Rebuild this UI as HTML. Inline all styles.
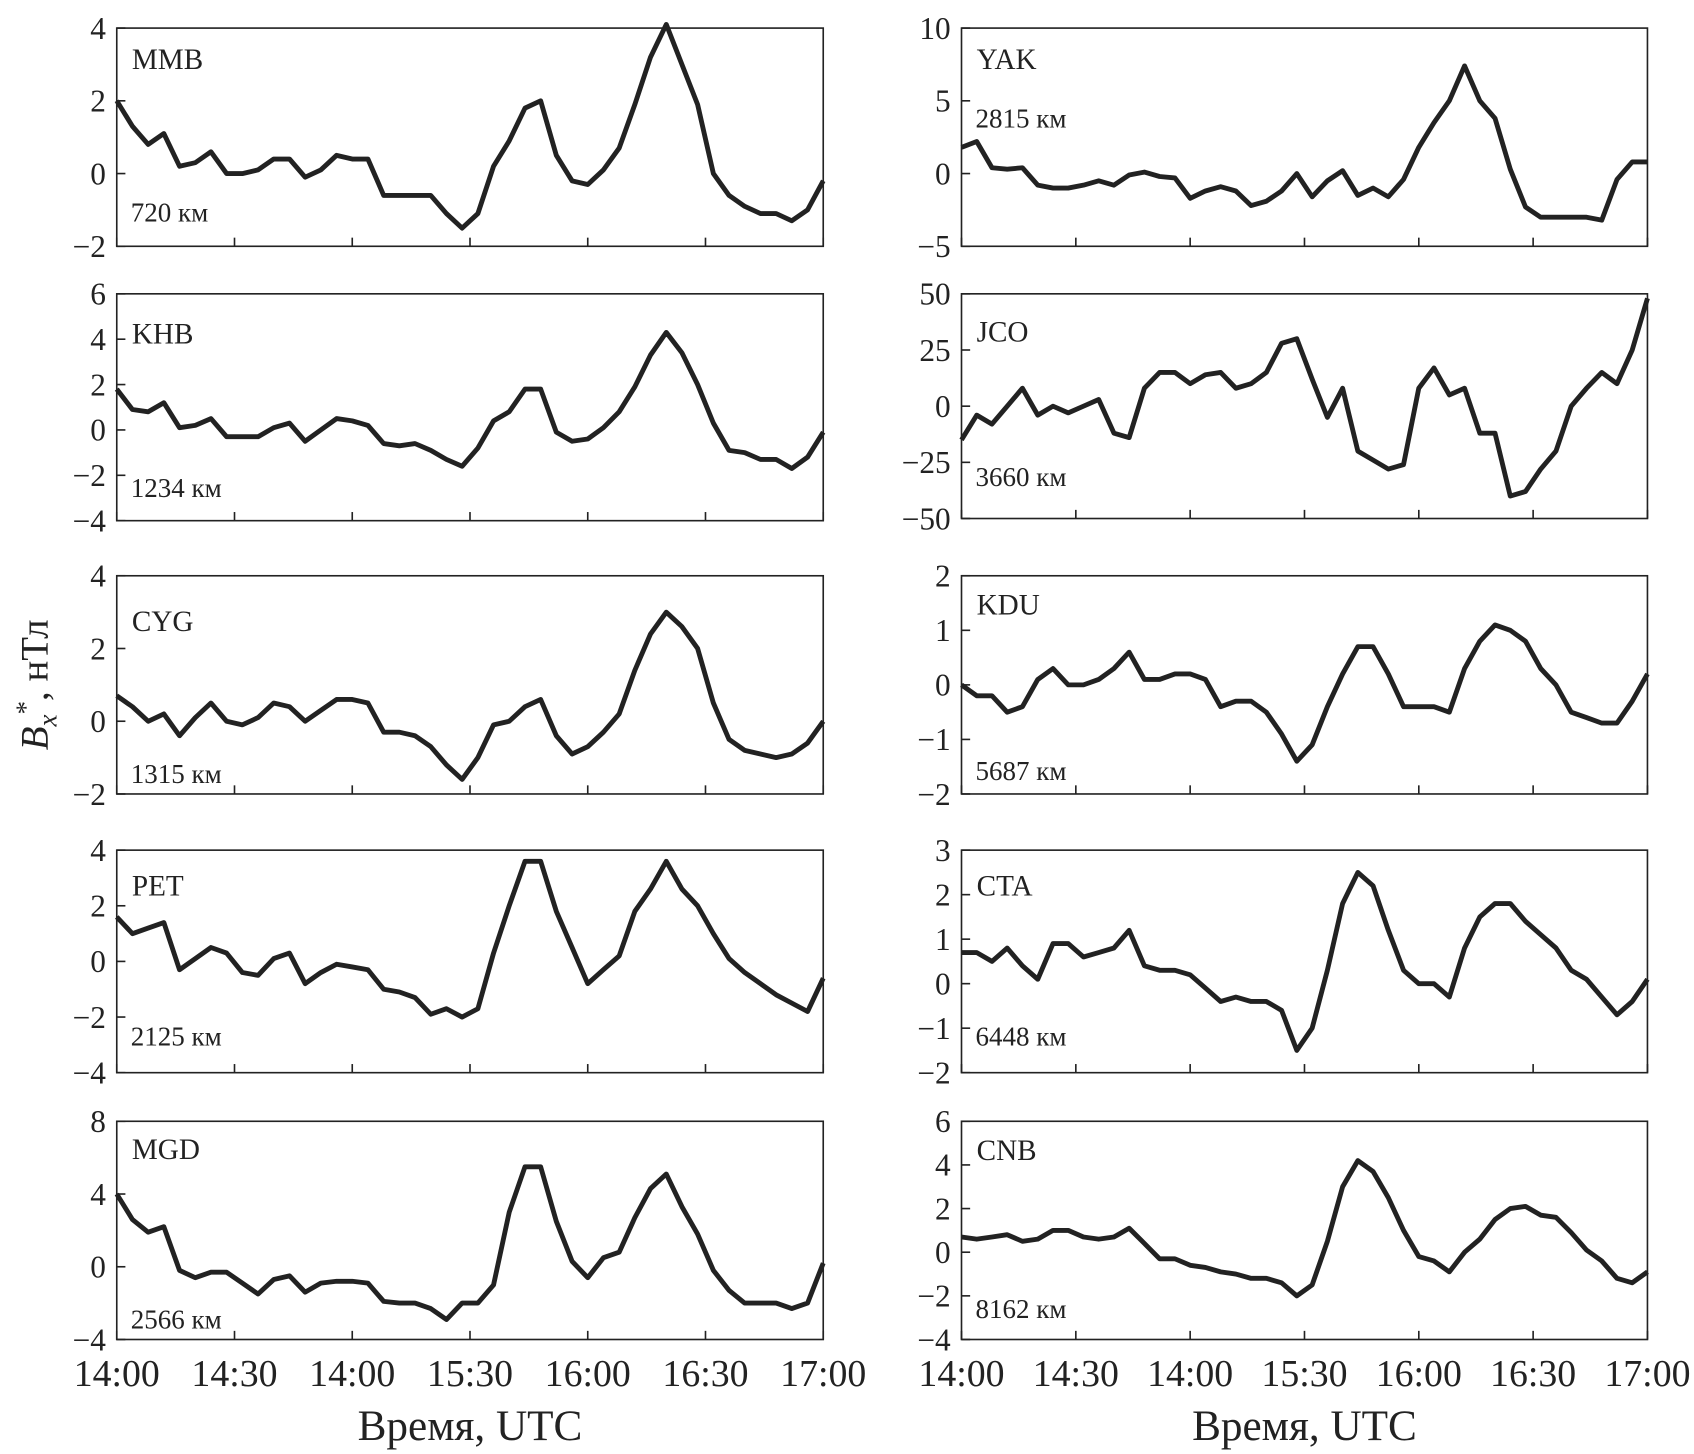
<!DOCTYPE html>
<html><head><meta charset="utf-8">
<style>
html,body{margin:0;padding:0;background:#fff;}
svg{display:block;}
text{font-family:"Liberation Serif",serif;fill:#222;}
</style></head>
<body>
<svg id="chart" width="1694" height="1454" viewBox="0 0 1568 1346" xmlns="http://www.w3.org/2000/svg"></svg>
<script>
const times = [0,4,8,12,16,20,24,28,32,36,40,44,48,52,56,60,64,68,72,76,80,84,88,92,96,100,104,108,112,116,120,124,128,132,136,140,144,148,152,156,160,164,168,172,176,180];
const xTickLabels = ["14:00","14:30","14:00","15:30","16:00","16:30","17:00"];
const stations = ["MMB","KHB","CYG","PET","MGD","YAK","JCO","KDU","CTA","CNB"];
const distances = ["720 км","1234 км","1315 км","2125 км","2566 км","2815 км","3660 км","5687 км","6448 км","8162 км"];
const yTicksMMB=[-2,0,2,4], yTicksKHB=[-4,-2,0,2,4,6], yTicksCYG=[-2,0,2,4], yTicksPET=[-4,-2,0,2,4], yTicksMGD=[-4,0,4,8];
const yTicksYAK=[-5,0,5,10], yTicksJCO=[-50,-25,0,25,50], yTicksKDU=[-2,-1,0,1,2], yTicksCTA=[-2,-1,0,1,2,3], yTicksCNB=[-4,-2,0,2,4,6];
const valsMMB=[2.0,1.3,0.8,1.1,0.2,0.3,0.6,0.0,0.0,0.1,0.4,0.4,-0.1,0.1,0.5,0.4,0.4,-0.6,-0.6,-0.6,-0.6,-1.1,-1.5,-1.1,0.2,0.9,1.8,2.0,0.5,-0.2,-0.3,0.1,0.7,1.9,3.2,4.1,3.0,1.9,0.0,-0.6,-0.9,-1.1,-1.1,-1.3,-1.0,-0.2];
const valsKHB=[1.8,0.9,0.8,1.2,0.1,0.2,0.5,-0.3,-0.3,-0.3,0.1,0.3,-0.5,0.0,0.5,0.4,0.2,-0.6,-0.7,-0.6,-0.9,-1.3,-1.6,-0.8,0.4,0.8,1.8,1.8,-0.1,-0.5,-0.4,0.1,0.8,1.9,3.3,4.3,3.4,2.0,0.3,-0.9,-1.0,-1.3,-1.3,-1.7,-1.2,-0.1];
const valsCYG=[0.7,0.4,0.0,0.2,-0.4,0.1,0.5,0.0,-0.1,0.1,0.5,0.4,0.0,0.3,0.6,0.6,0.5,-0.3,-0.3,-0.4,-0.7,-1.2,-1.6,-1.0,-0.1,0.0,0.4,0.6,-0.4,-0.9,-0.7,-0.3,0.2,1.4,2.4,3.0,2.6,2.0,0.5,-0.5,-0.8,-0.9,-1.0,-0.9,-0.6,0.0];
const valsPET=[1.6,1.0,1.2,1.4,-0.3,0.1,0.5,0.3,-0.4,-0.5,0.1,0.3,-0.8,-0.4,-0.1,-0.2,-0.3,-1.0,-1.1,-1.3,-1.9,-1.7,-2.0,-1.7,0.3,2.0,3.6,3.6,1.8,0.5,-0.8,-0.3,0.2,1.8,2.6,3.6,2.6,2.0,1.0,0.1,-0.4,-0.8,-1.2,-1.5,-1.8,-0.6];
const valsMGD=[4.0,2.6,1.9,2.2,-0.2,-0.6,-0.3,-0.3,-0.9,-1.5,-0.7,-0.5,-1.4,-0.9,-0.8,-0.8,-0.9,-1.9,-2.0,-2.0,-2.3,-2.9,-2.0,-2.0,-1.0,3.0,5.5,5.5,2.5,0.3,-0.6,0.5,0.8,2.7,4.3,5.1,3.3,1.8,-0.2,-1.3,-2.0,-2.0,-2.0,-2.3,-2.0,0.2];
const valsYAK=[1.8,2.2,0.4,0.3,0.4,-0.8,-1.0,-1.0,-0.8,-0.5,-0.8,-0.1,0.1,-0.2,-0.3,-1.7,-1.2,-0.9,-1.2,-2.2,-1.9,-1.2,0.0,-1.6,-0.5,0.2,-1.5,-1.0,-1.6,-0.4,1.8,3.5,5.0,7.4,5.0,3.8,0.3,-2.3,-3.0,-3.0,-3.0,-3.0,-3.2,-0.4,0.8,0.8];
const valsJCO=[-15,-4,-8,0,8,-4,0,-3,0,3,-12,-14,8,15,15,10,14,15,8,10,15,28,30,12,-5,8,-20,-24,-28,-26,8,17,5,8,-12,-12,-40,-38,-28,-20,0,8,15,10,25,48];
const valsKDU=[0.0,-0.2,-0.2,-0.5,-0.4,0.1,0.3,0.0,0.0,0.1,0.3,0.6,0.1,0.1,0.2,0.2,0.1,-0.4,-0.3,-0.3,-0.5,-0.9,-1.4,-1.1,-0.4,0.2,0.7,0.7,0.2,-0.4,-0.4,-0.4,-0.5,0.3,0.8,1.1,1.0,0.8,0.3,0.0,-0.5,-0.6,-0.7,-0.7,-0.3,0.2];
const valsCTA=[0.7,0.7,0.5,0.8,0.4,0.1,0.9,0.9,0.6,0.7,0.8,1.2,0.4,0.3,0.3,0.2,-0.1,-0.4,-0.3,-0.4,-0.4,-0.6,-1.5,-1.0,0.3,1.8,2.5,2.2,1.2,0.3,0.0,0.0,-0.3,0.8,1.5,1.8,1.8,1.4,1.1,0.8,0.3,0.1,-0.3,-0.7,-0.4,0.1];
const valsCNB=[0.7,0.6,0.7,0.8,0.5,0.6,1.0,1.0,0.7,0.6,0.7,1.1,0.4,-0.3,-0.3,-0.6,-0.7,-0.9,-1.0,-1.2,-1.2,-1.4,-2.0,-1.5,0.5,3.0,4.2,3.7,2.5,1.0,-0.2,-0.4,-0.9,0.0,0.6,1.5,2.0,2.1,1.7,1.6,0.9,0.1,-0.4,-1.2,-1.4,-0.9];

const svg=document.getElementById('chart');
const NS='http://www.w3.org/2000/svg';
function mk(tag,attrs,parent){const e=document.createElementNS(NS,tag);for(const k in attrs)e.setAttribute(k,attrs[k]);(parent||svg).appendChild(e);return e;}

const cols=[{x0:108,x1:762},{x0:890,x1:1525}];
const rows=[[26,228],[272,482],[533,735],[787,993],[1038,1240]];
const rowsR=[[26,228],[272,480],[533,735],[787,993],[1038,1240]];
const allVals=[valsMMB,valsKHB,valsCYG,valsPET,valsMGD,valsYAK,valsJCO,valsKDU,valsCTA,valsCNB];
const allTicks=[yTicksMMB,yTicksKHB,yTicksCYG,yTicksPET,yTicksMGD,yTicksYAK,yTicksJCO,yTicksKDU,yTicksCTA,yTicksCNB];
const nameDy=[38,46,51,42,35,38,44,36,42,36];
const distY=[205,460,725,968,1230,118,450,722,968,1220];

for(let p=0;p<10;p++){
  const c=cols[p<5?0:1];
  const r=(p<5?rows:rowsR)[p%5];
  const ticks=allTicks[p];
  const ymin=ticks[0], ymax=ticks[ticks.length-1];
  const xS=t=>c.x0+(t-0)/180*(c.x1-c.x0);
  const yS=v=>r[1]-(v-ymin)/(ymax-ymin)*(r[1]-r[0]);
  const g=mk('g',{});
  
  
  const frame=mk('rect',{x:c.x0,y:r[0],width:c.x1-c.x0,height:r[1]-r[0],fill:'none',stroke:'#222','stroke-width':1.5},g);
  
  
  ticks.forEach(v=>{
    const y=yS(v);
    const tl=mk('line',{x1:c.x0,x2:c.x0+8,y1:y,y2:y,stroke:'#222','stroke-width':1.5},g);
    
    
    const tx=mk('text',{x:c.x0-10,y:y+10,'text-anchor':'end','font-size':29},g);
    
    
    tx.textContent=v<0?'\u2212'+Math.abs(v):String(v);
  });
  for(let i=0;i<=6;i++){
    const x=xS(i*30);
    const tl=mk('line',{x1:x,x2:x,y1:r[1],y2:r[1]-8,stroke:'#222','stroke-width':1.5},g);
    
    
  }
  const vals=allVals[p];
  const pts=vals.map((v,i)=>xS(times[i]).toFixed(1)+','+yS(v).toFixed(1)).join(' ');
  const line=mk('polyline',{points:pts,fill:'none',stroke:'#222','stroke-width':4.5,'stroke-linejoin':'round'},g);
  
  
  const nm=mk('text',{x:c.x0+14,y:r[0]+nameDy[p],'font-size':27},g);
  
  
  nm.textContent=stations[p];
  const ds=mk('text',{x:c.x0+13,y:distY[p],'font-size':25},g);
  
  
  ds.textContent=distances[p];
}
cols.forEach((c,ci)=>{
  for(let i=0;i<=6;i++){
    const x=c.x0+i*30/180*(c.x1-c.x0);
    const t=mk('text',{x:x,y:1283,'text-anchor':'middle','font-size':35});
    
    
    t.textContent=xTickLabels[i];
  }
  const at=mk('text',{x:(c.x0+c.x1)/2,y:1333,'text-anchor':'middle','font-size':40});
  
  
  at.textContent='Время, UTC';
});
const yt=mk('text',{x:0,y:0,'text-anchor':'middle','font-size':36,transform:'translate(44,634) rotate(-90)'});


yt.innerHTML='<tspan font-style="italic">B</tspan><tspan font-style="italic" font-size="25" dy="8">x</tspan><tspan font-size="25" dy="-20">*</tspan><tspan dy="12">, нТл</tspan>';
</script>
</body></html>
